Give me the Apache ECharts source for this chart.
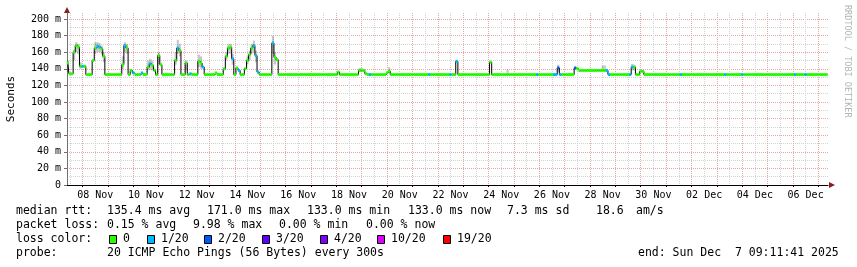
<!DOCTYPE html>
<html><head><meta charset="utf-8">
<script src="https://cdn.jsdelivr.net/npm/echarts@6/dist/echarts.min.js"></script>
<style>html,body{margin:0;padding:0;background:#fff}#c{width:857px;height:267px}</style>
</head><body><div id="c"></div>
<script>
// ---------- DATA ----------
// time stamps are written 'MM-DD HH' (2025); first median sample and sampling step
const firstSample = '11-07 10';
const stepHours = 2;
const viewStartLabel = '11-07 09:11:41';
const viewEndLabel = '12-07 09:11:41';

// median RTT in ms, one value per 2 hours
const medianMs = [
  /* Nov 07 10..22 */ 147,134,134,160,168,166,143,
  /* Nov 08 */ 143,143,133,133,133,150,165,167,166,164,155,133,
  /* Nov 09 */ 133,133,133,133,133,133,133,145,168,165,133,138,
  /* Nov 10 */ 135,133,133,133,135,133,133,142,146,144,138,133,
  /* Nov 11 */ 156,145,133,133,133,133,133,133,150,165,162,133,
  /* Nov 12 */ 133,147,133,134,133,133,133,149,147,142,133,133,
  /* Nov 13 */ 133,133,133,135,133,133,133,140,155,165,166,152,
  /* Nov 14 */ 133,141,138,133,133,140,150,157,165,168,156,136,
  /* Nov 15 */ 133,133,133,133,133,133,171,154,151,133,133,133,
  /* Nov 16 */ 133,133,133,133,133,133,133,133,133,133,133,133,
  /* Nov 17 */ 133,133,133,133,133,133,133,133,133,133,133,133,
  /* Nov 18 */ 133,136,133,133,133,133,133,133,133,133,133,138,
  /* Nov 19 */ 138,138,134,133,133,133,133,133,133,133,133,133,
  /* Nov 20 */ 135,137,133,133,133,133,133,133,133,133,133,133,
  /* Nov 21 */ 133,133,133,133,133,133,133,133,133,133,133,133,
  /* Nov 22 */ 133,133,133,133,133,133,133,133,133,149,133,133,
  /* Nov 23 */ 133,133,133,133,133,133,133,133,133,133,133,133,
  /* Nov 24 */ 133,148,133,133,133,133,133,133,133,133,133,133,
  /* Nov 25 */ 133,133,133,133,133,133,133,133,133,133,133,133,
  /* Nov 26 */ 133,133,133,133,133,133,133,133,133,141,133,133,
  /* Nov 27 */ 133,133,133,133,133,141,140,138,138,138,138,138,
  /* Nov 28 */ 138,138,138,138,138,138,138,138,138,133,133,133,
  /* Nov 29 */ 133,133,133,133,133,133,133,133,142,142,133,133,
  /* Nov 30 */ 137,137,133,133,133,133,133,133,133,133,133,133,
  /* Dec 01 */ 133,133,133,133,133,133,133,133,133,133,133,133,
  /* Dec 02 */ 133,133,133,133,133,133,133,133,133,133,133,133,
  /* Dec 03 */ 133,133,133,133,133,133,133,133,133,133,133,133,
  /* Dec 04 */ 133,133,133,133,133,133,133,133,133,133,133,133,
  /* Dec 05 */ 133,133,133,133,133,133,133,133,133,133,133,133,
  /* Dec 06 */ 133,133,133,133,133,133,133,133,133,133,133,133,
  /* Dec 07 00..08 */ 133,133,133,133,133
];

// samples with packet loss: [time, lost pings out of 20]
const lossEvents = [
  ['11-08 00',1],['11-08 14',1],['11-08 16',1],['11-09 16',1],['11-10 00',1],['11-10 08',1],
  ['11-10 16',1],['11-11 18',1],['11-12 06',1],['11-12 18',1],['11-13 22',1],['11-14 04',1],
  ['11-14 18',1],['11-14 20',1],['11-14 22',1],['11-15 12',1],['11-19 08',1],['11-21 16',1],
  ['11-22 12',1],['11-22 18',1],['11-25 22',1],['11-26 14',1],['11-26 16',1],['11-26 18',2],
  ['11-26 20',1],['11-27 10',2],['11-28 16',1],['11-28 18',1],['11-29 14',1],['11-29 16',1],
  ['12-01 14',1],['12-03 08',1],['12-04 00',1],['12-06 02',1],['12-06 12',1]
];

// smoke (spread of the individual pings): [time, low ms, high ms]
const smokeBands = [
  ['11-07 10',136,150],['11-07 16',150,163],['11-07 18',160,172],['11-07 20',158,170],['11-07 22',140,148],
  ['11-08 12',158,172],['11-08 14',160,172],['11-08 16',160,171],['11-08 18',157,168],['11-08 20',148,160],
  ['11-09 14',140,155],['11-09 16',160,172],['11-09 18',158,170],
  ['11-10 14',138,150],['11-10 16',139,152],['11-10 18',138,150],
  ['11-11 00',145,160],['11-11 16',145,160],['11-11 18',158,175],['11-11 20',155,170],
  ['11-12 02',138,150],['11-12 14',142,157],['11-12 16',140,155],
  ['11-13 16',150,160],['11-13 18',158,170],['11-13 20',158,170],['11-13 22',145,158],
  ['11-14 12',145,155],['11-14 14',150,162],['11-14 16',158,170],['11-14 18',160,174],['11-14 20',148,162],
  ['11-15 12',158,180],['11-15 14',145,160],
  ['11-18 22',136,141],['11-19 00',136,141],['11-20 02',135,142],['11-24 18',133,139],
  ['11-26 18',136,145],['11-28 12',138,144],['11-28 14',138,144],['11-29 16',138,146],['11-29 18',138,145]
];

// y axis ticks (ms) and x axis labels
const yMajorTicks = [0,20,40,60,80,100,120,140,160,180,200];
const yMinorTicks = [10,30,50,70,90,110,130,150,170,190];
const xLabelTimes = ['11-08 12','11-10 12','11-12 12','11-14 12','11-16 12','11-18 12','11-20 12','11-22 12','11-24 12','11-26 12','11-28 12','11-30 12','12-02 12','12-04 12','12-06 12'];
const xLabelTexts = ['08 Nov','10 Nov','12 Nov','14 Nov','16 Nov','18 Nov','20 Nov','22 Nov','24 Nov','26 Nov','28 Nov','30 Nov','02 Dec','04 Dec','06 Dec'];

// loss colour legend
const lossLevels = [0,1,2,3,4,10,19];
const lossLabels = ['0','1/20','2/20','3/20','4/20','10/20','19/20'];
const lossColors = ['#26ff00','#00b8ff','#0059ff','#5e00ff','#7e00ff','#dd00ff','#ff0000'];

// legend texts
const rttStats = ['135.4 ms avg','171.0 ms max','133.0 ms min','133.0 ms now','7.3 ms sd','18.6','am/s'];
const lossStats = ['0.15 % avg','9.98 % max','0.00 % min','0.00 % now'];
const probeText = '20 ICMP Echo Pings (56 Bytes) every 300s';
const endText = 'end: Sun Dec  7 09:11:41 2025';

// ---------- helpers ----------
// hours since Nov 7 00:00
function hoursOf(s) {
  const [md, hms] = s.split(' ');
  const [m, d] = md.split('-').map(Number);
  const parts = hms.split(':').map(Number);
  const dayOff = (m === 11 ? d - 7 : 23 + d);
  return dayOff * 24 + parts[0] + (parts[1] || 0) / 60 + (parts[2] || 0) / 3600;
}
const t0 = hoursOf(firstSample);
const viewStart = hoursOf(viewStartLabel);
const viewEnd = hoursOf(viewEndLabel);
const sampleHours = medianMs.map((v, i) => t0 + i * stepHours);
const lossByHour = {};
lossEvents.forEach(([t, n]) => { lossByHour[hoursOf(t)] = n; });
function lossColor(n) {
  let c = lossColors[0];
  lossLevels.forEach((lv, i) => { if (n >= lv) c = lossColors[i]; });
  return c;
}
const midnights = [], noons = [];
for (let d = 0; d <= 31; d++) { midnights.push(d * 24); noons.push(d * 24 + 12); }
const xLabelHours = xLabelTimes.map(hoursOf);

const mono = '"DejaVu Sans Mono", monospace';
const G = { left: 67, right: 29, top: 13, bottom: 82 };
const W = 857, H = 267;
const yMax = 207.2;

const lineData = medianMs.map((v, i) => [sampleHours[i], v]);
const segData = medianMs.map((v, i) => [sampleHours[i], v, lossByHour[sampleHours[i]] || 0]);
const smokeData = smokeBands.map(([t, lo, hi]) => [hoursOf(t), lo, hi]);

// ---------- graphic (legend & decorations) ----------
const graphics = [];
function txt(text, x, y, size, extra) {
  graphics.push(Object.assign({
    type: 'text', x: x, y: y, silent: true,
    style: { text: text, font: size + 'px ' + mono, fill: '#000', verticalAlign: 'middle', textAlign: 'left' }
  }, extra || {}));
}
const LF = 11.5;
txt('median rtt:', 16, 211.5, LF);
[107, 207, 307, 408, 507, 596, 636].forEach((x, i) => txt(rttStats[i], x, 211.5, LF));
txt('packet loss:', 16, 225.3, LF);
[107, 193, 279, 366].forEach((x, i) => txt(lossStats[i], x, 225.3, LF));
txt('loss color:', 16, 239.2, LF);
const boxX = [109, 147, 204, 262, 320, 377, 443];
lossLabels.forEach((lab, i) => {
  graphics.push({ type: 'rect', silent: true, shape: { x: boxX[i] + 0.5, y: 235.5, width: 7, height: 8 },
    style: { fill: lossColors[i], stroke: '#000', lineWidth: 1 } });
  txt(lab, boxX[i] + 14, 239.2, LF);
});
txt('probe:', 16, 253, LF);
txt(probeText, 107, 253, LF);
txt(endText, 638, 253, LF);
// y axis title
graphics.push({ type: 'text', x: 11, y: 99, rotation: Math.PI / 2, silent: true,
  style: { text: 'Seconds', font: '11px ' + mono, fill: '#000', textAlign: 'center', verticalAlign: 'middle' } });
// watermark
graphics.push({ type: 'text', x: 847, y: 5, rotation: -Math.PI / 2, silent: true,
  style: { text: 'RRDTOOL / TOBI OETIKER', font: '8.5px ' + mono, fill: '#b4b4b4', textAlign: 'left', verticalAlign: 'middle' } });
// axis arrows
const ax = W - G.right, ay = H - G.bottom;
graphics.push({ type: 'polygon', silent: true, shape: { points: [[ax + 1, ay - 3], [ax + 7, ay], [ax + 1, ay + 3]] }, style: { fill: '#8f1c1c' } });
graphics.push({ type: 'polygon', silent: true, shape: { points: [[G.left - 3, G.top], [G.left, G.top - 6], [G.left + 3, G.top]] }, style: { fill: '#8f1c1c' } });

// ---------- chart ----------
const chart = echarts.init(document.getElementById('c'), null, { renderer: 'canvas', width: W, height: H });
const majorColor = '#e8a6a6', minorColor = '#d2d2d2';
chart.setOption({
  animation: false,
  backgroundColor: '#ffffff',
  grid: { left: G.left, right: G.right, top: G.top, bottom: G.bottom },
  xAxis: [
    { type: 'value', min: viewStart, max: viewEnd, position: 'bottom',
      axisLine: { show: true, onZero: false, lineStyle: { color: '#000', width: 1 } },
      axisTick: { show: true, customValues: midnights, length: 2, lineStyle: { color: '#000' } },
      axisLabel: { customValues: xLabelHours, margin: 5, color: '#000', fontFamily: mono, fontSize: 10,
        formatter: v => { const i = xLabelHours.findIndex(h => Math.abs(h - v) < 0.01); return i >= 0 ? xLabelTexts[i] : ''; } },
      splitLine: { show: true, lineStyle: { color: majorColor, width: 1, type: [1, 1] } } },
    { type: 'value', min: viewStart, max: viewEnd, position: 'bottom',
      axisLine: { show: false }, axisLabel: { show: false },
      axisTick: { show: false, customValues: noons },
      splitLine: { show: true, lineStyle: { color: minorColor, width: 1, type: [1, 1] } } }
  ],
  yAxis: [
    { type: 'value', min: 0, max: yMax, position: 'left',
      axisLine: { show: true, onZero: false, lineStyle: { color: '#707070', width: 1 } },
      axisTick: { show: true, customValues: yMajorTicks, length: 3, lineStyle: { color: '#707070' } },
      axisLabel: { customValues: yMajorTicks, margin: 6, color: '#000', fontFamily: mono, fontSize: 10,
        formatter: v => v === 0 ? '0' : v + ' m' },
      splitLine: { show: true, lineStyle: { color: majorColor, width: 1, type: [1, 1] } } },
    { type: 'value', min: 0, max: yMax, position: 'left',
      axisLine: { show: false }, axisLabel: { show: false },
      axisTick: { show: false, customValues: yMinorTicks },
      splitLine: { show: true, lineStyle: { color: minorColor, width: 1, type: [1, 1] } } }
  ],
  series: [
    { type: 'custom', name: 'smoke', xAxisIndex: 0, yAxisIndex: 0, z: 2, silent: true,
      encode: { x: 0, y: [1, 2] }, data: smokeData,
      renderItem: (params, api) => {
        const h = api.value(0);
        const a = api.coord([h - stepHours / 2, api.value(2)]);
        const b = api.coord([h + stepHours / 2, api.value(1)]);
        return { type: 'rect', shape: { x: a[0], y: a[1], width: b[0] - a[0], height: b[1] - a[1] },
          style: { fill: 'rgba(0,0,0,0.22)' } };
      } },
    { type: 'line', name: 'median', xAxisIndex: 0, yAxisIndex: 0, z: 3, silent: true,
      data: lineData, step: 'middle', showSymbol: false, symbol: 'none',
      lineStyle: { color: '#000', width: 1 } },
    { type: 'custom', name: 'loss', xAxisIndex: 0, yAxisIndex: 0, z: 4, silent: true,
      encode: { x: 0, y: 1 }, data: segData,
      renderItem: (params, api) => {
        const h = api.value(0), v = api.value(1);
        const a = api.coord([h - stepHours / 2, v]);
        const b = api.coord([h + stepHours / 2, v]);
        return { type: 'rect', shape: { x: a[0], y: a[1] - 1.5, width: b[0] - a[0], height: 3 },
          style: { fill: lossColor(api.value(2)) } };
      } }
  ],
  graphic: graphics
});
</script></body></html>
